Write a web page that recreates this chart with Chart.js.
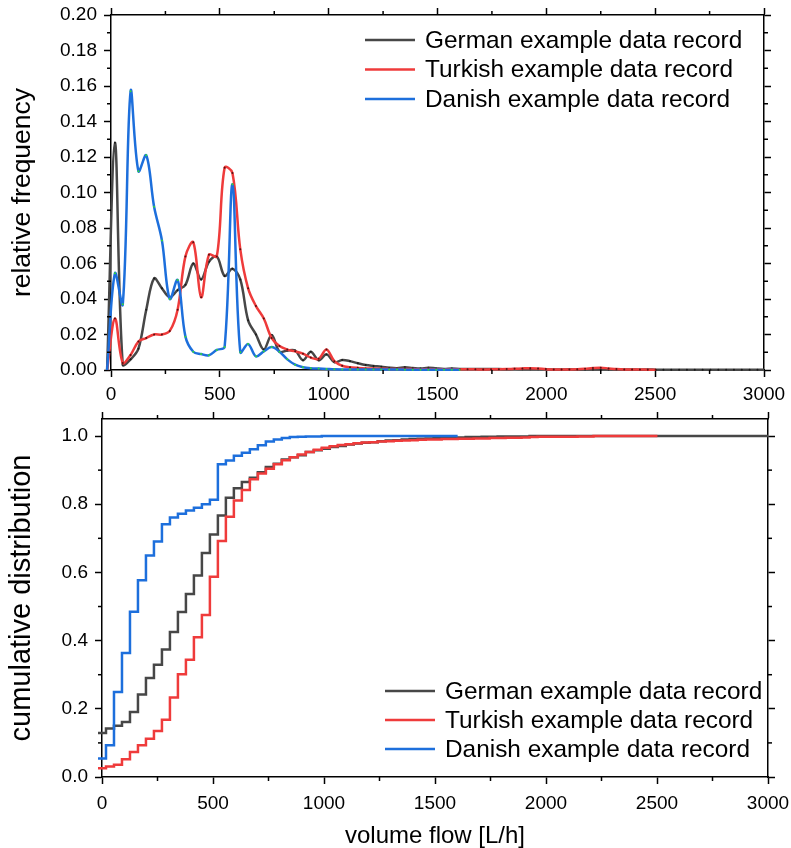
<!DOCTYPE html>
<html><head><meta charset="utf-8">
<script src="https://cdn.jsdelivr.net/npm/chart.js@4.4.1/dist/chart.umd.min.js"></script>
<style>
html,body{margin:0;padding:0;background:#fff;}
#wrap{position:relative;width:791px;height:848px;overflow:hidden;}
canvas{position:absolute;left:0;}
#c1{top:0;} #c2{top:400px;}
</style></head><body>
<div id="wrap"><canvas id="c1" width="791" height="400"></canvas><canvas id="c2" width="791" height="448"></canvas></div>
<script>
// ---- data (volume flow bins in L/h) ----
const volumeFlow = [-18, 18, 54, 90, 126, 162, 198, 234, 270, 306, 342, 378, 414, 450, 486, 522, 558, 594, 630, 666,
  702, 738, 774, 810, 846, 882, 918, 954, 990, 1026, 1062, 1098, 1134, 1170, 1206, 1242, 1278, 1314, 1350, 1386,
  1422, 1458, 1494, 1530, 1566, 1602, 1638, 1674, 1710, 1746, 1782, 1818, 1854, 1890, 1926, 1962, 1998, 2034, 2070, 2106,
  2142, 2178, 2214, 2250, 2286, 2322, 2358, 2394, 2430, 2466, 2502, 2538, 2574, 2610, 2646, 2682, 2718, 2754, 2790, 2826,
  2862, 2898, 2934, 2970, 3006];

const seriesNames = ['German example data record', 'Turkish example data record', 'Danish example data record'];

const germanFreq = [0, 0.128, 0.003, 0.006, 0.012, 0.034, 0.0516, 0.046, 0.041, 0.045,
  0.048, 0.060, 0.051, 0.061, 0.064, 0.053, 0.057, 0.051, 0.028, 0.020,
  0.0115, 0.0197, 0.0103, 0.011, 0.011, 0.0055, 0.0103, 0.0055, 0.0088, 0.0044,
  0.0056, 0.005, 0.0038, 0.0028, 0.0023, 0.0019, 0.0013, 0.001, 0.0015, 0.0011,
  0.0008, 0.0013, 0.0009, 0.0006, 0.0008, 0.0006, 0.0006, 0.0005, 0.0006, 0.0005,
  0.0005, 0.0004, 0.0005, 0.0004, 0.0004, 0.0004, 0.0004, 0.0003, 0.0003, 0.0004,
  0.0003, 0.0003, 0.0003, 0.0003, 0.0003, 0.0003, 0.0003, 0.0003, 0.0002, 0.0003,
  0.0002, 0.0002, 0.0002, 0.0002, 0.0002, 0.0002, 0.0002, 0.0002, 0.0002, 0.0002,
  0.0002, 0.0002, 0.0002, 0.0002, 0.0002];

const turkishFreq = [0, 0.029, 0.004, 0.0085, 0.016, 0.018, 0.020, 0.020, 0.022, 0.034,
  0.064, 0.072, 0.041, 0.065, 0.064, 0.114, 0.111, 0.068, 0.046, 0.036,
  0.029, 0.018, 0.0135, 0.0115, 0.0105, 0.0092, 0.007, 0.0063, 0.0115, 0.005,
  0.0024, 0.0016, 0.0012, 0.0009, 0.0008, 0.0007, 0.0006, 0.0005, 0.0005, 0.0005,
  0.0004, 0.0005, 0.0004, 0.0004, 0.0004, 0.0004, 0.0004, 0.0004, 0.0003, 0.0004,
  0.0004, 0.0005, 0.0007, 0.0009, 0.001, 0.0008, 0.0005, 0.0003, 0.0003, 0.0003,
  0.0004, 0.0007, 0.0011, 0.0013, 0.0009, 0.0005, 0.0003, 0.0003, 0.0003, 0.0002, 0.0002];

const danishFreq = [0, 0.0545, 0.037, 0.157, 0.112, 0.121, 0.092, 0.073, 0.040, 0.0507,
  0.0188, 0.0103, 0.009, 0.0083, 0.0113, 0.013, 0.1046, 0.010, 0.0146, 0.0077,
  0.0105, 0.0129, 0.0103, 0.006, 0.003, 0.0016, 0.001, 0.0008, 0.0006, 0.0004,
  0.0003, 0.0003, 0.0003, 0.0003, 0.0003, 0.0003, 0.0003, 0.0003,
  0.0002, 0.0002, 0.0002, 0.0002, 0.0002, 0.0002, 0.0002, 0.0002];

// cumulative distribution: first value is the start (0) at the first bin edge
const germanCdf = [0, 0.129, 0.142, 0.150, 0.161, 0.191, 0.242, 0.290, 0.329, 0.374, 0.425,
  0.484, 0.537, 0.591, 0.657, 0.711, 0.767, 0.819, 0.847, 0.865, 0.878,
  0.894, 0.909, 0.919, 0.931, 0.938, 0.944, 0.953, 0.958, 0.963, 0.968,
  0.971, 0.975, 0.978, 0.980, 0.982, 0.985, 0.987, 0.988, 0.990, 0.991,
  0.992, 0.993, 0.994, 0.995, 0.996, 0.996, 0.997, 0.997, 0.998, 0.998,
  0.999, 0.999, 0.999, 0.999, 1, 1, 1, 1, 1, 1,
  1, 1, 1, 1, 1, 1, 1, 1, 1, 1,
  1, 1, 1, 1, 1, 1, 1, 1, 1, 1,
  1, 1, 1, 1, 1];

const turkishCdf = [0, 0.026, 0.031, 0.036, 0.052, 0.073, 0.093, 0.112, 0.135, 0.168, 0.233,
  0.301, 0.344, 0.410, 0.475, 0.587, 0.692, 0.763, 0.811, 0.842, 0.873,
  0.890, 0.904, 0.917, 0.929, 0.938, 0.946, 0.953, 0.960, 0.966, 0.970,
  0.974, 0.976, 0.979, 0.981, 0.982, 0.984, 0.985, 0.986, 0.987, 0.988,
  0.989, 0.990, 0.990, 0.991, 0.991, 0.992, 0.992, 0.993, 0.993, 0.994,
  0.994, 0.995, 0.995, 0.996, 0.997, 0.998, 0.998, 0.998, 0.998, 0.998,
  0.999, 0.999, 1, 1, 1, 1, 1, 1, 1, 1, 1];

const danishCdf = [0, 0.054, 0.093, 0.249, 0.364, 0.485, 0.577, 0.650, 0.691, 0.741, 0.761,
  0.772, 0.782, 0.790, 0.800, 0.813, 0.917, 0.928, 0.942, 0.951, 0.961,
  0.973, 0.984, 0.990, 0.994, 0.997, 0.998, 0.999, 0.999, 1, 1,
  1, 1, 1, 1, 1, 1, 1, 1, 1, 1, 1, 1, 1, 1, 1, 1];

// tick values
const xMinorTicks = [250, 750, 1250, 1750, 2250, 2750];
const freqMinorTicks = [0.01, 0.03, 0.05, 0.07, 0.09, 0.11, 0.13, 0.15, 0.17, 0.19];
const cdfMinorTicks = [0.1, 0.3, 0.5, 0.7, 0.9];

// ---- styles ----
const FONT = "'Liberation Sans', Arial, Helvetica, sans-serif";
const COLORS = ['#474747', '#ef3b3b', '#1d6fdc'];
const DOTS = ['#1a1a1a', '#5a1010', '#33dd33'];
const Z = [3, 2, 1];

function freqPoints(values) { return values.map((y, i) => ({x: volumeFlow[i], y})); }
function cdfPoints(values) { return values.map((y, i) => ({x: volumeFlow[Math.max(0, i - 1)], y})); }

function fix(prop, val) {
  return (s) => { s[prop] = val; s.paddingLeft = 0; s.paddingRight = 0; s.paddingTop = 0; s.paddingBottom = 0; };
}

const minorTickPlugin = {
  id: 'minorTicks',
  afterDraw(chart, args, opts) {
    const ctx = chart.ctx;
    ctx.save();
    ctx.strokeStyle = '#000';
    ctx.lineWidth = 1.5;
    for (const id of Object.keys(opts.ticks || {})) {
      const s = chart.scales[id];
      const len = opts.length;
      for (const v of opts.ticks[id]) {
        const p = s.getPixelForValue(v);
        ctx.beginPath();
        if (s.position === 'bottom') { ctx.moveTo(p, s.top); ctx.lineTo(p, s.top + len); }
        else if (s.position === 'top') { ctx.moveTo(p, s.bottom); ctx.lineTo(p, s.bottom - len); }
        else if (s.position === 'left') { ctx.moveTo(s.right, p); ctx.lineTo(s.right - len, p); }
        else { ctx.moveTo(s.left, p); ctx.lineTo(s.left + len, p); }
        ctx.stroke();
      }
    }
    ctx.restore();
  }
};

const insetLegendPlugin = {
  id: 'insetLegend',
  afterDatasetsDraw(chart, args, o) {
    const ctx = chart.ctx;
    ctx.save();
    ctx.font = o.fontSize + 'px ' + FONT;
    ctx.textBaseline = 'middle';
    ctx.textAlign = 'left';
    chart.data.datasets.forEach((ds, i) => {
      const y = o.y + i * o.dy;
      ctx.strokeStyle = ds.borderColor;
      ctx.lineWidth = ds.borderWidth;
      ctx.beginPath();
      ctx.moveTo(o.x, y);
      ctx.lineTo(o.x + o.lineLen, y);
      ctx.stroke();
      ctx.fillStyle = '#000';
      ctx.fillText(ds.label, o.textX, y + 1);
    });
    ctx.restore();
  }
};

function axisCommon(extra) {
  return Object.assign({
    type: 'linear',
    grid: {drawOnChartArea: false, drawTicks: true, tickLength: 7, tickWidth: 1.5, tickColor: '#000'},
    border: {display: true, color: '#000', width: 1.5}
  }, extra);
}

function makeChart(canvasId, cfg) {
  return new Chart(document.getElementById(canvasId), {
    type: 'line',
    data: {
      datasets: cfg.series.map((vals, i) => Object.assign({
        label: seriesNames[i],
        data: cfg.points(vals),
        borderColor: COLORS[i],
        backgroundColor: COLORS[i],
        borderWidth: 2.5,
        fill: false,
        order: Z[i],
        clip: cfg.clip
      }, cfg.datasetExtra(i)))
    },
    options: {
      responsive: false,
      animation: false,
      devicePixelRatio: 1,
      layout: {padding: 0},
      events: [],
      elements: {line: {capBezierPoints: false}},
      plugins: {
        legend: {display: false},
        tooltip: {enabled: false},
        minorTicks: {length: 4, ticks: cfg.minor},
        insetLegend: cfg.legend
      },
      scales: {
        x: axisCommon({
          position: 'bottom', min: 0, max: 3000, afterFit: fix('height', cfg.xHeight),
          ticks: {stepSize: 500, autoSkip: false, maxRotation: 0, color: '#000', padding: cfg.xPad,
            font: {family: FONT, size: 19}, callback: (v) => String(v)},
          title: cfg.xTitle
        }),
        x2: axisCommon({
          position: 'top', min: 0, max: 3000, afterFit: fix('height', cfg.topHeight),
          ticks: {stepSize: 500, display: false}
        }),
        y: axisCommon({
          position: 'left', min: cfg.yMin, max: cfg.yMax, afterFit: fix('width', cfg.leftWidth),
          ticks: {stepSize: cfg.yStep, includeBounds: false, autoSkip: false, color: '#000', padding: 7,
            font: {family: FONT, size: 19}, callback: (v) => Number(v).toFixed(cfg.yDecimals)},
          title: {display: true, text: cfg.yTitle, color: '#000', font: {family: FONT, size: cfg.yTitleSize, lineHeight: 1},
            padding: {top: cfg.yTitlePad, bottom: 0}}
        }),
        y2: axisCommon({
          position: 'right', min: cfg.yMin, max: cfg.yMax, afterFit: fix('width', cfg.rightWidth),
          ticks: {stepSize: cfg.yStep, includeBounds: false, display: false}
        })
      }
    },
    plugins: [minorTickPlugin, insetLegendPlugin]
  });
}

// top: relative frequency
makeChart('c1', {
  series: [germanFreq, turkishFreq, danishFreq],
  points: freqPoints,
  datasetExtra: (i) => ({tension: 0.35, cubicInterpolationMode: 'default', capBezierPoints: false,
    pointRadius: 1, pointHoverRadius: 0, pointBorderWidth: 0, pointBackgroundColor: DOTS[i]}),
  clip: {left: 8, right: 0, top: 0, bottom: 14},
  minor: {x: xMinorTicks, x2: xMinorTicks, y: freqMinorTicks, y2: freqMinorTicks},
  legend: {x: 365, lineLen: 50, textX: 425, y: 40, dy: 29.5, fontSize: 24.4},
  xHeight: 30, topHeight: 15, leftWidth: 111, rightWidth: 27, xPad: 6,
  xTitle: {display: false},
  yMin: 0, yMax: 0.2, yStep: 0.02, yDecimals: 2, yTitle: 'relative frequency', yTitleSize: 26.5, yTitlePad: 9
});

// bottom: cumulative distribution
makeChart('c2', {
  series: [germanCdf, turkishCdf, danishCdf],
  points: cdfPoints,
  datasetExtra: () => ({stepped: true, tension: 0, pointRadius: 0, pointHoverRadius: 0}),
  clip: {left: 8, right: 0, top: 0, bottom: 3},
  minor: {x: xMinorTicks, x2: xMinorTicks, y: cdfMinorTicks, y2: cdfMinorTicks},
  legend: {x: 385, lineLen: 50, textX: 445, y: 291, dy: 29, fontSize: 24.4},
  xHeight: 71, topHeight: 19, leftWidth: 102, rightWidth: 23, xPad: 8,
  xTitle: {display: true, text: 'volume flow [L/h]', color: '#000', font: {family: FONT, size: 24, lineHeight: 1},
    padding: {top: 0, bottom: 0}},
  yMin: 0, yMax: 1.05, yStep: 0.2, yDecimals: 1, yTitle: 'cumulative distribution', yTitleSize: 29, yTitlePad: 7.5
});
</script></body></html>
